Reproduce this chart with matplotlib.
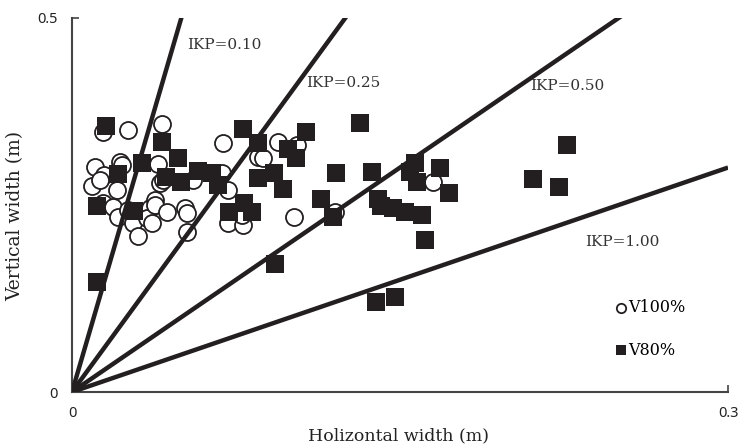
import numpy as np
import matplotlib
matplotlib.use("Agg")
import matplotlib.pyplot as plt

# IKP reference lines (IKP = horizontal / vertical)
ikp_values = [0.10, 0.25, 0.50, 1.00]
ikp_labels = ["IKP=0.10", "IKP=0.25", "IKP=0.50", "IKP=1.00"]
ikp_label_pos = [(0.0526, 0.464), (0.107, 0.413), (0.2094, 0.409), (0.2346, 0.2005)]

# V100% (open circles)
v100_x = [0.0142, 0.0256, 0.0412, 0.0105, 0.0146, 0.0220, 0.0229, 0.0091, 0.0128,
          0.0206, 0.0142, 0.0188, 0.0210, 0.0256, 0.0279, 0.0302, 0.0357, 0.0380,
          0.0343, 0.0393, 0.0402, 0.0416, 0.0553, 0.0691, 0.0686, 0.0713, 0.0380,
          0.0434, 0.0517, 0.0526, 0.0366, 0.0526, 0.0713, 0.0782, 0.0777, 0.0851,
          0.0942, 0.1029, 0.0873, 0.1015, 0.1203, 0.1651]
v100_y = [0.348, 0.350, 0.358, 0.301, 0.290, 0.307, 0.303, 0.275, 0.283,
          0.270, 0.253, 0.247, 0.234, 0.243, 0.226, 0.209, 0.246, 0.257,
          0.233, 0.305, 0.279, 0.283, 0.283, 0.333, 0.293, 0.270, 0.250,
          0.241, 0.246, 0.239, 0.226, 0.214, 0.226, 0.223, 0.237, 0.314,
          0.334, 0.330, 0.313, 0.234, 0.241, 0.281]

# V80% (filled squares)
v80_x = [0.0155, 0.0114, 0.0114, 0.0210, 0.0320, 0.0284, 0.0412, 0.0485, 0.0430,
         0.0498, 0.0576, 0.0640, 0.0668, 0.0718, 0.0782, 0.0851, 0.0851, 0.0787,
         0.0823, 0.0928, 0.0924, 0.0965, 0.0988, 0.1024, 0.1070, 0.1139, 0.1207,
         0.1194, 0.1317, 0.1372, 0.1399, 0.1413, 0.1468, 0.1390, 0.1477, 0.1546,
         0.1569, 0.1578, 0.1683, 0.1724, 0.1523, 0.1601, 0.1614, 0.2108, 0.2227,
         0.2264]
v80_y = [0.356, 0.249, 0.147, 0.291, 0.306, 0.242, 0.334, 0.313, 0.287,
         0.281, 0.295, 0.293, 0.277, 0.241, 0.352, 0.286, 0.333, 0.253,
         0.241, 0.171, 0.293, 0.271, 0.325, 0.313, 0.348, 0.258, 0.293,
         0.234, 0.360, 0.294, 0.258, 0.249, 0.246, 0.120, 0.127, 0.294,
         0.306, 0.281, 0.299, 0.266, 0.241, 0.237, 0.203, 0.285, 0.274,
         0.330]

serif = ["DejaVu Serif"]
ink = "#231f20"

fig = plt.figure(figsize=(7.39, 4.48), dpi=100)
ax = fig.add_axes([0.0974, 0.125, 0.8878, 0.835])

xmax, ymax = 0.3, 0.5
xs = np.array([0.0, xmax])
for k in ikp_values:
    ax.plot(xs, xs / k, color=ink, lw=3.2, solid_capstyle="butt", zorder=3)

ax.scatter(v100_x, v100_y, s=150, facecolors="white", edgecolors=ink,
           linewidths=1.3, zorder=2, label="V100%")
ax.scatter(v80_x, v80_y, s=150, marker="s", color=ink, linewidths=0,
           zorder=4, label="V80%")

for lab, (tx, ty) in zip(ikp_labels, ikp_label_pos):
    ax.text(tx, ty, lab, family=serif, fontsize=11, color="#333333",
            va="center", ha="left")

ax.set_xlim(0, xmax)
ax.set_ylim(0, ymax)
ax.set_xticks([0, xmax])
ax.set_xticklabels(["0", "0.3"])
ax.set_yticks([0, ymax])
ax.set_yticklabels(["0", "0.5"])
ax.tick_params(direction="in", length=5, width=1.2, colors="#444444",
               labelsize=10.5, pad=10)
for t in ax.get_xticklabels() + ax.get_yticklabels():
    t.set_family(["Noto Sans", "DejaVu Sans"])
    t.set_color("#222222")

for s in ["top", "right"]:
    ax.spines[s].set_visible(False)
for s in ["left", "bottom"]:
    ax.spines[s].set_color("#444444")
    ax.spines[s].set_linewidth(1.5)

ax.set_xlabel("Holizontal width (m)", family=serif, fontsize=12.5,
              color="#222222")
ax.set_ylabel("Vertical width (m)", family=serif, fontsize=13.5,
              color="#222222")
ax.xaxis.set_label_coords(0.498, -0.118)
ax.yaxis.set_label_coords(-0.087, 0.47)
ax.xaxis.label.set_va("center")
ax.yaxis.label.set_va("center")

leg = ax.legend(loc="upper left", bbox_to_anchor=(0.815, 0.27), frameon=False,
                prop={"family": serif, "size": 11.5}, handletextpad=0.05,
                handlelength=0.8, labelspacing=1.6, borderpad=0,
                markerscale=0.55)

fig.savefig("out.png", dpi=100)
